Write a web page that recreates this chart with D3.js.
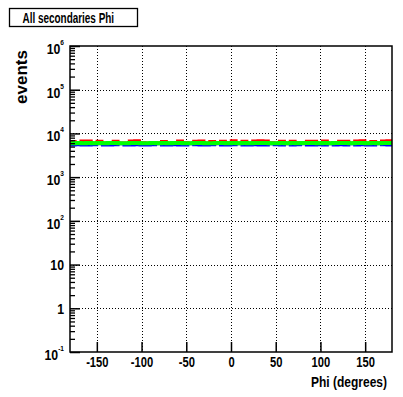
<!DOCTYPE html>
<html><head><meta charset="utf-8">
<script src="https://cdnjs.cloudflare.com/ajax/libs/d3/7.8.5/d3.min.js"></script>
<style>
html,body{margin:0;padding:0;background:#fff;}
svg{display:block;font-family:"Liberation Sans",Arial,Helvetica,sans-serif;font-weight:bold;}
</style></head>
<body>
<script>
// ---- data ----
const title = "All secondaries Phi";
const xLabel = "Phi (degrees)";
const yLabel = "events";
const xTicks = [-150, -100, -50, 0, 50, 100, 150];
const yDecades = [0.1, 1, 10, 100, 1000, 10000, 100000, 1000000];
const binLo = -180, binHi = 180;
// 60 bins of 6 degrees
const redVals = [6600,6200,6800,6800,6150,6700,6100,6200,6750,6100,6150,6800,6850,6200,6100,6150,6200,6650,6100,6150,
                 6800,6200,6100,6750,6800,6150,6650,6100,6700,6200,6850,6100,6700,6150,6800,6900,6800,6200,6100,6750,
                 6150,6700,6200,6100,6700,6750,6150,6800,6100,6200,6700,6750,6150,6800,6850,6100,6600,6200,6800,6850];
const greenVals = [6000,6050,5980,6020,6000,6050,5990,6010,6040,5980,6000,6030,6050,5990,6000,6020,5980,6040,6000,6010,
                   6030,5990,6000,6050,6020,5980,6000,6040,6010,5990,6030,6000,6020,5980,6040,6050,6010,5990,6000,6030,
                   6000,6020,5990,6010,6040,6030,5980,6020,6000,6010,6030,6040,5990,6020,6050,6000,6010,5990,6030,6040];
const blueVals = [5400,5420,5380,5400,5410,5750,5390,5400,5420,5750,5380,5400,5410,5390,5400,5420,5750,5380,5400,5410,
                  5390,5400,5750,5420,5380,5400,5410,5750,5390,5400,5420,5750,5380,5400,5410,5390,5400,5750,5420,5380,
                  5750,5400,5410,5750,5390,5400,5420,5380,5750,5400,5410,5390,5750,5400,5420,5380,5400,5750,5410,5390];

// ---- layout ----
const W = 403, H = 397;
const L = 70, R = 392, T = 46, B = 352;
const sx = 0.82; // condensed text look

const svg = d3.select("body").append("svg").attr("width", W).attr("height", H);
svg.append("rect").attr("width", W).attr("height", H).attr("fill", "#fff");

const x = d3.scaleLinear().domain([binLo, binHi]).range([L, R]);
const y = d3.scaleLog().domain([0.1, 1e6]).range([B, T]);

// grid
const grid = svg.append("g").attr("stroke", "#000").attr("stroke-width", 1).attr("stroke-dasharray", "1,2");
grid.selectAll("line.vx").data(xTicks).join("line")
  .attr("x1", d => Math.round(x(d)) + 0.5).attr("x2", d => Math.round(x(d)) + 0.5)
  .attr("y1", T).attr("y2", B);
grid.selectAll("line.hy").data(yDecades.slice(1, -1)).join("line")
  .attr("y1", d => Math.round(y(d)) + 0.5).attr("y2", d => Math.round(y(d)) + 0.5)
  .attr("x1", L).attr("x2", R);

// histograms
const nb = redVals.length;
const bw = (binHi - binLo) / nb;
function stepPts(vals) {
  const pts = vals.map((v, i) => [binLo + i * bw, v]);
  pts.push([binHi, vals[vals.length - 1]]);
  return pts;
}
const line = d3.line().x(d => x(d[0])).y(d => y(d[1])).curve(d3.curveStepAfter);
svg.append("path").attr("d", line(stepPts(redVals))).attr("fill", "none")
  .attr("stroke", "#ff0000").attr("stroke-width", 2.5);
svg.append("path").attr("d", line(stepPts(blueVals))).attr("fill", "none")
  .attr("stroke", "#0000ff").attr("stroke-width", 2.5);
svg.append("path").attr("d", line(stepPts(greenVals))).attr("fill", "none")
  .attr("stroke", "#00ff00").attr("stroke-width", 4);

// frame
svg.append("rect").attr("x", L).attr("y", T).attr("width", R - L).attr("height", B - T)
  .attr("fill", "none").attr("stroke", "#000").attr("stroke-width", 1.5);

// y minor ticks
const minors = [];
for (let e = -1; e < 6; e++) for (let k = 2; k <= 9; k++) minors.push(k * Math.pow(10, e));
svg.append("g").attr("transform", `translate(${L},0)`)
  .call(d3.axisLeft(y).tickValues(minors).tickSizeInner(-5).tickSizeOuter(0).tickFormat(""))
  .call(g => g.select(".domain").remove())
  .call(g => g.selectAll("line").attr("stroke", "#000").attr("stroke-width", 1.3));

// y major ticks + labels
const yAx = svg.append("g").attr("transform", `translate(${L},0)`)
  .call(d3.axisLeft(y).tickValues(yDecades).tickSizeInner(-10).tickSizeOuter(0).tickPadding(5)
    .tickFormat(d => String(Math.round(Math.log10(d)))))
  .call(g => g.select(".domain").remove())
  .call(g => g.selectAll("line").attr("stroke", "#000").attr("stroke-width", 1.5));
yAx.selectAll("text").each(function(d) {
  const e = Math.round(Math.log10(d));
  const t = d3.select(this).text("").attr("fill", "#000")
    .style("font-size", "15px").style("font-weight", "bold")
    .attr("transform", `scale(${sx},1)`).attr("x", -6 / sx).attr("dy", null);
  if (e === 0) { t.attr("y", 5).text("1"); }
  else if (e === 1) { t.attr("y", 5).text("10"); }
  else {
    t.attr("y", 7.5);
    t.append("tspan").text("10");
    t.append("tspan").attr("dy", -9).style("font-size", "8px").text(String(e).replace("\u2212", "-"));
  }
});

// x axis
const xAx = svg.append("g").attr("transform", `translate(0,${B})`)
  .call(d3.axisBottom(x).tickValues(xTicks).tickSizeInner(-10).tickSizeOuter(0).tickPadding(5)
    .tickFormat(d => String(d)))
  .call(g => g.select(".domain").remove())
  .call(g => g.selectAll("line").attr("stroke", "#000").attr("stroke-width", 1.5));
xAx.selectAll("text").attr("fill", "#000").style("font-size", "14px").style("font-weight", "bold")
  .attr("transform", `scale(0.8,1)`);

// axis titles
svg.append("text").attr("transform", "translate(387,387) scale(0.8,1)").attr("text-anchor", "end")
  .style("font-size", "15px").text(xLabel);
svg.append("text").attr("transform", "translate(27,50) rotate(-90)").attr("text-anchor", "end")
  .style("font-size", "17px").text(yLabel);

// title box
svg.append("rect").attr("x", 9.5).attr("y", 8.5).attr("width", 128).attr("height", 18)
  .attr("fill", "#fff").attr("stroke", "#000").attr("stroke-width", 1.3);
svg.append("text").attr("transform", "translate(22.5,22.5) scale(0.71,1)")
  .style("font-size", "14px").text(title);
</script>
</body></html>
